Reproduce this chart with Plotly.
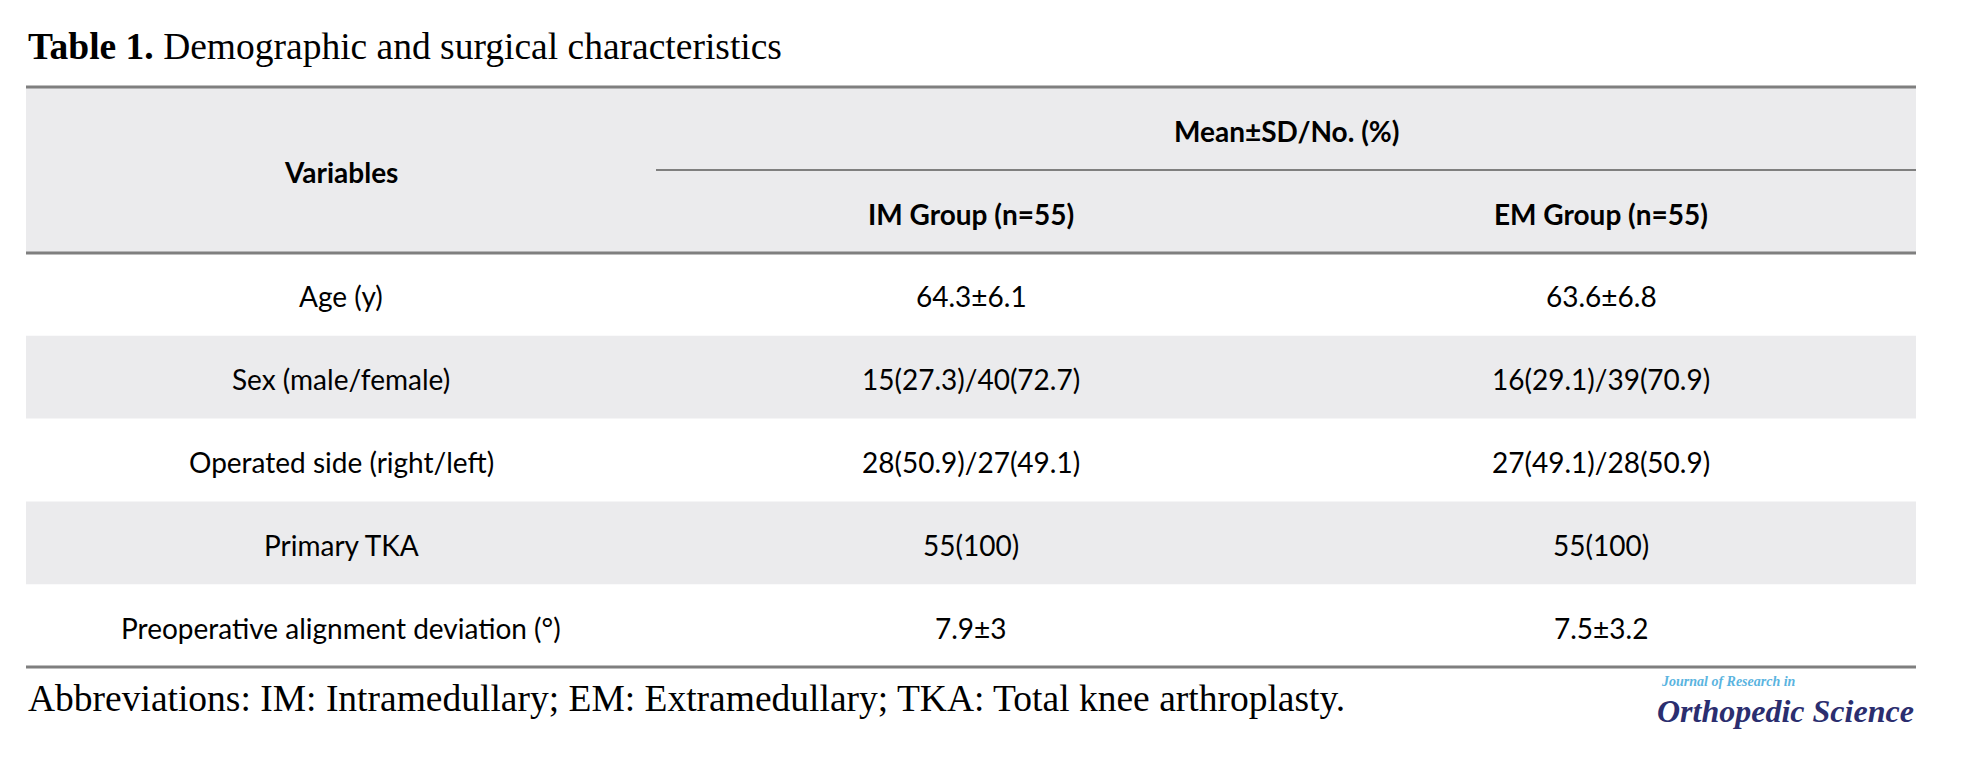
import plotly.graph_objects as go

# ---- data ----
title_bold = "Table 1."
title_rest = " Demographic and surgical characteristics"
header_vars = "Variables"
header_span = "Mean±SD/No. (%)"
group_labels = ["IM Group (n=55)", "EM Group (n=55)"]
variables = ["Age (y)", "Sex (male/female)", "Operated side (right/left)",
             "Primary TKA", "Preoperative alignment deviation (°)"]
im_group = ["64.3±6.1", "15(27.3)/40(72.7)", "28(50.9)/27(49.1)", "55(100)", "7.9±3"]
em_group = ["63.6±6.8", "16(29.1)/39(70.9)", "27(49.1)/28(50.9)", "55(100)", "7.5±3.2"]
footnote = "Abbreviations: IM: Intramedullary; EM: Extramedullary; TKA: Total knee arthroplasty."
logo_top = "Journal of Research in"
logo_main = "Orthopedic Science"

# ---- layout geometry ----
W, H = 1976, 770
LEFT, RIGHT = 26, 1916
TOP, MID, HBOT = 87, 170, 253
ROW_H = (667 - HBOT) / len(variables)
COL_W = (RIGHT - LEFT) / 3
SHADE = "#ebebed"
LINE = "#7f7f7f"
SANS = "Lato"
SERIF = "Liberation Serif"
DY = 2  # small vertical nudge for text optical centering

shapes = []
annotations = []

# header background
shapes.append(dict(type="rect", x0=LEFT, x1=RIGHT, y0=TOP, y1=HBOT,
                   fillcolor=SHADE, line_width=0, layer="below"))
# shaded rows
for i in range(len(variables)):
    if i % 2 == 1:
        shapes.append(dict(type="rect", x0=LEFT, x1=RIGHT,
                           y0=HBOT + i * ROW_H, y1=HBOT + (i + 1) * ROW_H,
                           fillcolor=SHADE, line_width=0, layer="below"))
# rules
for (x0, y, lw) in [(LEFT, TOP, 3), (LEFT + COL_W, MID, 2), (LEFT, HBOT, 3),
                    (LEFT, HBOT + len(variables) * ROW_H, 3)]:
    shapes.append(dict(type="line", x0=x0, x1=RIGHT, y0=y, y1=y,
                       line=dict(color=LINE, width=lw)))

def txt(x, y, s, size=28, bold=False, family=SANS, color="#000000",
        xanchor="center", italic=False):
    if bold:
        s = "<b>" + s + "</b>"
    if italic:
        s = "<i>" + s + "</i>"
    annotations.append(dict(x=x, y=y, xref="x", yref="y", text=s,
                            showarrow=False, xanchor=xanchor, yanchor="middle",
                            font=dict(family=family, size=size, color=color)))

cx = [LEFT + COL_W * (k + 0.5) for k in range(3)]

# title
annotations.append(dict(x=LEFT, y=46, xref="x", yref="y",
                        text="<b>" + title_bold + "</b>" + title_rest,
                        showarrow=False, xanchor="left", yanchor="middle",
                        font=dict(family=SERIF, size=37.5, color="#000000")))

# headers
txt(cx[0], (TOP + HBOT) / 2 + DY, header_vars, bold=True)
txt((cx[1] + cx[2]) / 2, (TOP + MID) / 2 + DY, header_span, bold=True)
for k, g in enumerate(group_labels):
    txt(cx[k + 1], (MID + HBOT) / 2 + DY, g, bold=True)

# body
for i, (v, a, b) in enumerate(zip(variables, im_group, em_group)):
    yc = HBOT + (i + 0.5) * ROW_H + DY
    txt(cx[0], yc, v)
    txt(cx[1], yc, a)
    txt(cx[2], yc, b)

# footnote
annotations.append(dict(x=LEFT, y=698, xref="x", yref="y", text=footnote,
                        showarrow=False, xanchor="left", yanchor="middle",
                        font=dict(family=SERIF, size=37.5, color="#000000")))

# logo
txt(1659, 681, logo_top, size=14, bold=True, italic=True, family=SERIF,
    color="#5ab4e0", xanchor="left")
txt(RIGHT, 711, logo_main, size=32, bold=True, italic=True, family=SERIF,
    color="#2b2e6f", xanchor="right")

fig = go.Figure()
fig.update_layout(
    width=W, height=H, margin=dict(l=0, r=0, t=0, b=0),
    paper_bgcolor="white", plot_bgcolor="white",
    xaxis=dict(range=[0, W], visible=False, fixedrange=True),
    yaxis=dict(range=[H, 0], visible=False, fixedrange=True),
    shapes=shapes, annotations=annotations, showlegend=False,
)
fig.write_html("out.html", config={"displayModeBar": False},
               post_script="document.body.style.margin='0';")
